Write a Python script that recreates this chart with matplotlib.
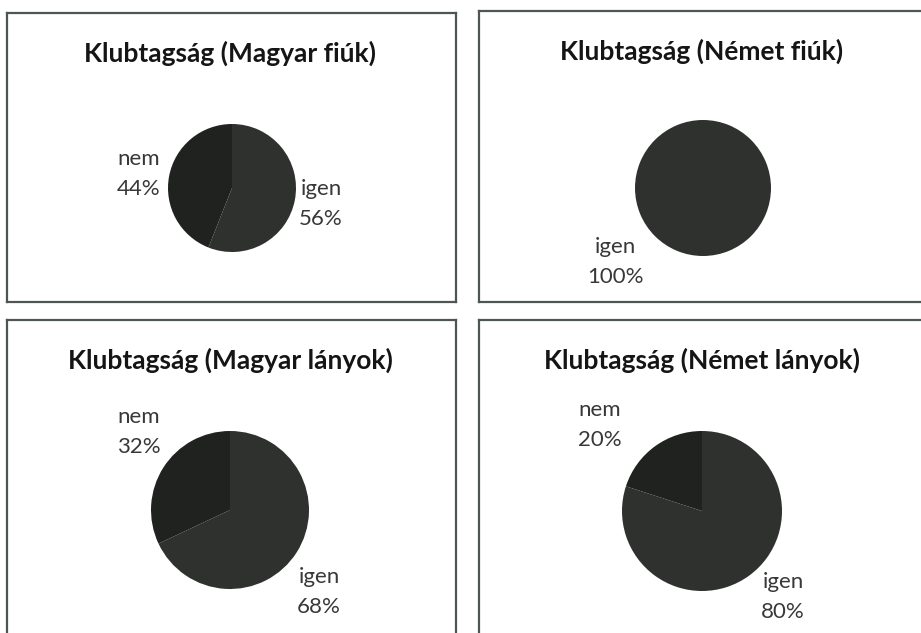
import matplotlib
matplotlib.use("Agg")
import matplotlib.pyplot as plt

# ── data ──────────────────────────────────────────────────────────────────
titles = [
    "Klubtagság (Magyar fiúk)",
    "Klubtagság (Német fiúk)",
    "Klubtagság (Magyar lányok)",
    "Klubtagság (Német lányok)",
]
categories = ["igen", "nem"]
igen_pct = [56, 100, 68, 80]
nem_pct = [44, 0, 32, 20]

# ── styling / layout (pixels, top-left origin) ────────────────────────────
W, H = 921, 633
C_IGEN = "#2f312f"
C_NEM = "#202220"
C_TEXT = "#383838"
C_BORDER = "#4d5651"
FONT = ["Lato", "DejaVu Sans"]

# panel boxes: left, top, right, bottom
boxes = [
    (7, 13, 456, 302),
    (479, 11, 930, 302),
    (7, 320, 456, 645),
    (479, 320, 930, 645),
]
# pie centre (relative to panel) and radius
pie_geo = [
    (225, 175, 64),
    (224, 177, 68),
    (223, 190, 79),
    (223, 191, 80),
]
title_y = 40
# label centres (relative to panel), per slice: igen, nem
label_pos = [
    [(314, 191), (132, 161)],
    [(136, 251), None],
    [(312, 272), (132, 112)],
    [(304, 277), (121, 105)],
]

fig = plt.figure(figsize=(W / 100, H / 100), dpi=100, facecolor="white")

for i, (l, t, r, b) in enumerate(boxes):
    pw, ph = r - l, b - t
    ax = fig.add_axes([l / W, 1 - b / H, pw / W, ph / H])
    cx, cy, rad = pie_geo[i]
    vals = [igen_pct[i], nem_pct[i]]
    ax.pie(vals, colors=[C_IGEN, C_NEM], startangle=90, counterclock=False,
           center=(cx, ph - cy), radius=rad, frame=True,
           wedgeprops=dict(linewidth=0))
    ax.set_xlim(0, pw)
    ax.set_ylim(0, ph)
    ax.set_aspect("auto")
    ax.set_xticks([])
    ax.set_yticks([])
    for s in ax.spines.values():
        s.set_color(C_BORDER)
        s.set_linewidth(1.6)

    ax.text(223, ph - title_y, titles[i], ha="center", va="center",
            fontsize=19, fontweight="bold", color="#151515", family=FONT)

    for j, cat in enumerate(categories):
        pos = label_pos[i][j]
        if vals[j] == 0 or pos is None:
            continue
        ax.text(pos[0], ph - pos[1], f"{cat}\n{vals[j]}%", ha="center",
                va="center", fontsize=16, color=C_TEXT, family=FONT,
                linespacing=1.6, multialignment="center")

fig.savefig("out.png", dpi=100, facecolor="white")
